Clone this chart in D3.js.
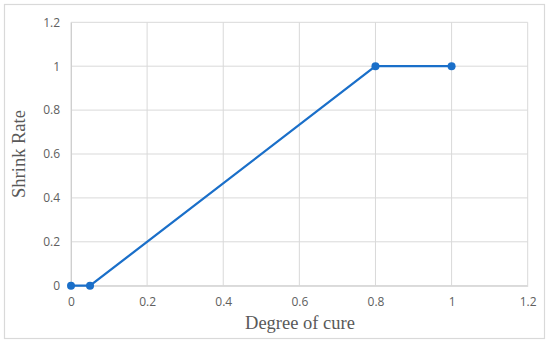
<!DOCTYPE html>
<html><head><meta charset="utf-8">
<script src="https://cdn.jsdelivr.net/npm/d3@7"></script>
<style>body{margin:0;background:#fff}svg{display:block}</style>
</head><body>
<script>
const xValues = [0, 0.05, 0.8, 1];
const yValues = [0, 0, 1, 1];
const xTicks = [0, 0.2, 0.4, 0.6, 0.8, 1, 1.2];
const yTicks = [0, 0.2, 0.4, 0.6, 0.8, 1, 1.2];
const xTitle = "Degree of cure";
const yTitle = "Shrink Rate";

const W = 550, H = 344;
const svg = d3.select("body").append("svg").attr("width", W).attr("height", H);
svg.append("rect").attr("x", 4.5).attr("y", 4.5).attr("width", 540).attr("height", 334)
  .attr("fill", "#fff").attr("stroke", "#d9d9d9").attr("stroke-width", 1.2);

const x = d3.scaleLinear().domain([0, 1.2]).range([71, 527.7]);
const y = d3.scaleLinear().domain([0, 1.2]).range([285.7, 22.3]);

const grid = svg.append("g");
grid.selectAll("line.v").data(xTicks).join("line")
  .attr("x1", d => x(d)).attr("x2", d => x(d)).attr("y1", y(0)).attr("y2", y(1.2))
  .attr("stroke", "#d9d9d9").attr("stroke-width", 1);
grid.selectAll("line.h").data(yTicks).join("line")
  .attr("x1", x(0)).attr("x2", x(1.2)).attr("y1", d => y(d)).attr("y2", d => y(d))
  .attr("stroke", "#d9d9d9").attr("stroke-width", 1);

const font = "'Open Sans', sans-serif";
const fmt = d => String(+d.toFixed(1));
const xAxis = svg.append("g").attr("transform", `translate(0,${y(0)})`)
  .call(d3.axisBottom(x).tickValues(xTicks).tickFormat(fmt).tickSize(0).tickPadding(12));
const yAxis = svg.append("g").attr("transform", `translate(${x(0)},0)`)
  .call(d3.axisLeft(y).tickValues(yTicks).tickFormat(fmt).tickSize(0).tickPadding(11));
[xAxis, yAxis].forEach(a => {
  a.select(".domain").attr("stroke", "#cfcfcf");
  a.selectAll("text").attr("fill", "#606060").style("font-family", font).style("font-size", "12px");
});

const data = xValues.map((v, i) => [v, yValues[i]]);
const color = "#1a6fc9";
svg.append("path").datum(data)
  .attr("d", d3.line().x(d => x(d[0])).y(d => y(d[1])))
  .attr("fill", "none").attr("stroke", color).attr("stroke-width", 2.25);
svg.selectAll("circle").data(data).join("circle")
  .attr("cx", d => x(d[0])).attr("cy", d => y(d[1])).attr("r", 4)
  .attr("fill", color);

svg.append("text").attr("x", 300).attr("y", 329).attr("text-anchor", "middle")
  .attr("fill", "#595959").style("font-family", "'Liberation Serif', serif").style("font-size", "18.5px")
  .text(xTitle);
svg.append("text").attr("transform", `translate(25,154) rotate(-90)`).attr("text-anchor", "middle")
  .attr("fill", "#595959").style("font-family", "'Liberation Serif', serif").style("font-size", "18.5px")
  .text(yTitle);
</script>
</body></html>
